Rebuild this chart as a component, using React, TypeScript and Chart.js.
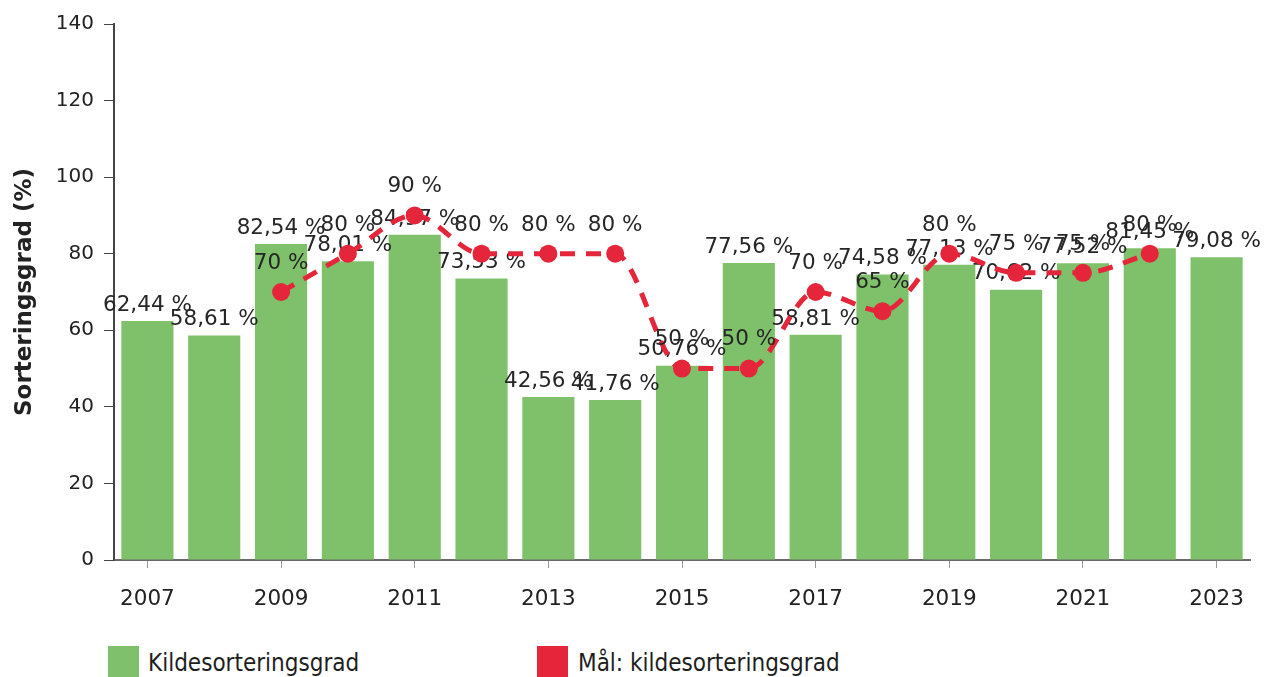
import React, { useEffect, useRef } from "react";
import { Chart, registerables } from "chart.js";

Chart.register(...registerables);

const years = ["2007","2008","2009","2010","2011","2012","2013","2014","2015","2016","2017","2018","2019","2020","2021","2022","2023"];
const sortingRate = [62.44, 58.61, 82.54, 78.01, 84.97, 73.53, 42.56, 41.76, 50.76, 77.56, 58.81, 74.58, 77.13, 70.62, 77.52, 81.45, 79.08];
const targetRate: (number | null)[] = [null, null, 70, 80, 90, 80, 80, 80, 50, 50, 70, 65, 80, 75, 75, 80, null];
const yTicks = [0, 20, 40, 60, 80, 100, 120, 140];

const GREEN = "rgb(126,193,106)";
const RED = "rgb(229,38,58)";
const FONT = '"DejaVu Sans", Verdana, sans-serif';

const fmtBar = (v: number) => v.toFixed(2).replace(".", ",") + " %";
const fmtTarget = (v: number) => `${v} %`;

const labelPlugin = {
  id: "valueLabels",
  afterDatasetDraw(chart: any, args: any) {
    const ctx = chart.ctx;
    const meta = args.meta;
    const ds = chart.data.datasets[args.index];
    const isBar = meta.type === "bar";
    ctx.save();
    ctx.font = `21.5px ${FONT}`;
    ctx.fillStyle = "#262626";
    ctx.textAlign = "center";
    ctx.textBaseline = "bottom";
    meta.data.forEach((el: any, j: number) => {
      const v = ds.data[j];
      if (v == null) return;
      const txt = isBar ? fmtBar(v) : fmtTarget(v);
      ctx.fillText(txt, el.x, el.y - (isBar ? 5 : 18));
    });
    ctx.restore();
  },
};

export default function App() {
  const ref = useRef<HTMLCanvasElement | null>(null);
  useEffect(() => {
    if (!ref.current) return;
    const chart = new Chart(ref.current, {
      type: "bar",
      data: {
        labels: years,
        datasets: [
          {
            type: "bar",
            label: "Kildesorteringsgrad",
            data: sortingRate,
            backgroundColor: GREEN,
            borderWidth: 0,
            barPercentage: 0.78,
            categoryPercentage: 1,
            order: 2,
          },
          {
            type: "line",
            label: "Mål: kildesorteringsgrad",
            data: targetRate as any,
            borderColor: RED,
            backgroundColor: RED,
            borderWidth: 5,
            borderDash: [15, 11],
            pointRadius: 9,
            pointBorderWidth: 0,
            pointBackgroundColor: RED,
            cubicInterpolationMode: "monotone",
            spanGaps: false,
            order: 1,
          } as any,
        ],
      },
      options: {
        responsive: false,
        animation: false,
        devicePixelRatio: 1,
        layout: { padding: { top: 24, right: 17, left: 0, bottom: 0 } },
        plugins: {
          legend: { display: false },
          tooltip: { enabled: false },
        },
        scales: {
          x: {
            grid: {
              offset: false,
              drawOnChartArea: false,
              drawTicks: true,
              tickLength: 8,
              color: (c: any) => (c.index % 2 === 0 ? "#9a9a9a" : "rgba(0,0,0,0)"),
            },
            border: { display: true, color: "#6a6a6a", width: 2 },
            ticks: {
              autoSkip: false,
              maxRotation: 0,
              padding: 19,
              color: "#222",
              font: { family: FONT, size: 21.5 },
              callback: (_v: any, i: number) => (i % 2 === 0 ? years[i] : ""),
            },
            afterFit: (s: any) => {
              s.height = 70;
            },
          },
          y: {
            min: 0,
            max: 140,
            afterBuildTicks: (s: any) => {
              s.ticks = yTicks.map((v) => ({ value: v }));
            },
            grid: {
              drawOnChartArea: false,
              drawTicks: true,
              tickLength: 10,
              color: "#444",
            },
            border: { display: true, color: "#444", width: 2 },
            ticks: {
              padding: 10,
              color: "#222",
              font: { family: FONT, size: 20 },
            },
            title: {
              display: true,
              text: "Sorteringsgrad (%)",
              color: "#222",
              font: { family: FONT, size: 23, weight: "bold" },
              padding: { top: 11, bottom: 0 },
            },
            afterFit: (s: any) => {
              s.width = 114;
            },
          },
        },
      },
      plugins: [labelPlugin],
    });
    return () => chart.destroy();
  }, []);

  const legendText: React.CSSProperties = {
    position: "absolute",
    fontFamily: '"DejaVu Sans Condensed", "DejaVu Sans", sans-serif',
    fontSize: 24,
    color: "#1e1e1e",
    top: 648,
    lineHeight: "30px",
    whiteSpace: "nowrap",
  };

  return (
    <div style={{ position: "absolute", left: 0, top: 0, width: 1267, height: 677, overflow: "hidden", background: "#fff" }}>
      <canvas ref={ref} width={1267} height={630} style={{ position: "absolute", left: 0, top: 0 }} />
      <div style={{ position: "absolute", left: 108, top: 646, width: 31, height: 31, background: GREEN }} />
      <div style={{ ...legendText, left: 148 }}>Kildesorteringsgrad</div>
      <div style={{ position: "absolute", left: 537, top: 646, width: 31, height: 31, background: RED }} />
      <div style={{ ...legendText, left: 578 }}>Mål: kildesorteringsgrad</div>
    </div>
  );
}
